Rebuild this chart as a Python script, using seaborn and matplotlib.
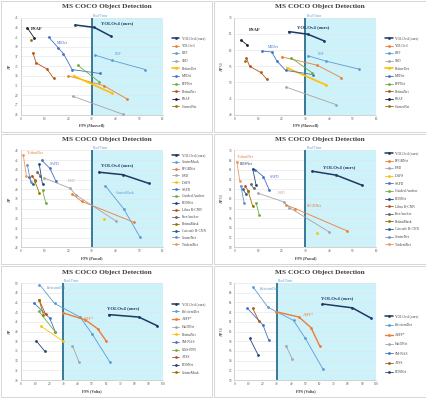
import numpy as np
import pandas as pd
import seaborn as sns
import matplotlib.pyplot as plt
from matplotlib.patches import Rectangle

# --- Maxwell GPU (FPS shared by AP and AP50 charts) ---
max_yolov4_fps = [23, 31, 38]
max_yolov4_ap = [43.5, 43.0, 41.2]
max_yolov4_ap50 = [65.7, 64.9, 62.8]
max_yolov3_fps = [20, 35, 45]
max_yolov3_ap = [33.0, 31.0, 28.2]
max_yolov3_ap50 = [57.9, 55.3, 51.5]
max_lrf_fps = [31.3, 38.5, 52.6]
max_lrf_ap = [37.3, 36.2, 34.3]
max_lrf_ap50 = [58.2, 56.6, 54.1]
max_ssd_fps = [22, 43]
max_ssd_ap = [28.8, 25.1]
max_ssd_ap50 = [48.5, 43.1]
max_refinedet_fps = [22.3, 38.7]
max_refinedet_ap = [33.0, 29.4]
max_refinedet_ap50 = [54.5, 49.2]
max_m2det_fps = [11.8, 15.8, 18.0, 21.7, 33.4]
max_m2det_ap = [41.0, 38.8, 37.6, 34.3, 33.5]
max_m2det_ap50 = [59.7, 59.4, 56.6, 53.7, 52.4]
max_pfpnet_fps = [24, 33]
max_pfpnet_ap = [35.2, 31.8]
max_pfpnet_ap50 = [57.6, 52.9]
max_retinanet_fps = [5.1, 6.5, 11.1, 13.9]
max_retinanet_ap = [37.8, 35.7, 34.4, 32.5]
max_retinanet_ap50 = [57.5, 55.0, 53.1, 50.9]
max_fsaf_fps = [2.8, 5.6]
max_fsaf_ap = [42.9, 40.9]
max_fsaf_ap50 = [63.1, 61.5]
max_cornernet_fps = [4.4]
max_cornernet_ap = [40.5]
max_cornernet_ap50 = [56.5]

# --- Pascal GPU ---
pas_yolov4_fps = [33, 43, 54]
pas_yolov4_ap = [43.5, 43.0, 41.2]
pas_yolov4_ap50 = [65.7, 64.9, 62.8]
pas_centermask_fps = [35.7, 43.5, 50.2]
pas_centermask_ap = [40.7, 35.9, 30.2]
pas_efgrnet_fps = [21.7, 25.7, 47.6]
pas_efgrnet_ap = [39.0, 37.5, 33.2]
pas_efgrnet_ap50 = [58.8, 58.0, 53.4]
pas_hsd_fps = [9.9, 20.8, 23.3, 40.0]
pas_hsd_ap = [42.3, 40.2, 38.8, 33.5]
pas_hsd_ap50 = [61.2, 59.4, 58.2, 53.2]
pas_dafs_fps = [35.1]
pas_dafs_ap = [33.8]
pas_dafs_ap50 = [52.9]
pas_sapd_fps = [8.8, 12.3, 14.8]
pas_sapd_ap = [46.0, 44.3, 41.7]
pas_sapd_ap50 = [66.0, 64.6, 61.8]
pas_guided_fps = [9.2, 10.6]
pas_guided_ap = [39.8, 37.1]
pas_guided_ap50 = [59.2, 56.6]
pas_rdsnet_fps = [7.8, 9.2]
pas_rdsnet_ap = [45.2, 41.0]
pas_rdsnet_ap50 = [66.2, 62.9]
pas_libra_fps = [4.6, 6.0]
pas_libra_ap = [42.8, 41.9]
pas_libra_ap50 = [62.7, 61.6]
pas_freeanchor_fps = [7.0, 8.2]
pas_freeanchor_ap = [43.5, 42.8]
pas_freeanchor_ap50 = [63.0, 62.2]
pas_retinamask_fps = [5.9, 7.8]
pas_retinamask_ap = [41.7, 39.3]
pas_retinamask_ap50 = [61.6, 58.5]
pas_cascade_fps = [3.6, 5.0]
pas_cascade_ap = [42.5, 41.0]
pas_cascade_ap50 = [62.0, 61.0]
pas_centernet_fps = [2.8, 4.2]
pas_centernet_ap = [45.0, 41.5]
pas_centernet_ap50 = [62.7, 59.2]
pas_tridentnet_fps = [1.1, 2.4]
pas_tridentnet_ap = [47.0, 42.8]
pas_tridentnet_ap50 = [67.7, 63.6]

# --- Volta GPU ---
vol_yolov4_fps = [62, 83, 96]
vol_yolov4_ap = [43.5, 43.0, 41.2]
vol_yolov4_ap50 = [65.7, 64.9, 62.8]
vol_effdet_fps = [13.2, 23.8, 41.7, 50.0, 62.5]
vol_effdet_ap = [49.7, 45.8, 43.0, 39.6, 33.8]
vol_effdet_ap50 = [69.2, 65.0, 62.3, 58.6, 52.2]
vol_asff_fps = [29.4, 45.5, 54.0, 60.0]
vol_asff_ap = [43.9, 42.4, 40.6, 38.1]
vol_asff_ap50 = [64.1, 63.0, 60.8, 57.1]
vol_hardnet_fps = [36.4, 40.9]
vol_hardnet_ap = [37.1, 33.8]
vol_hardnet_ap50 = [57.1, 54.3]
vol_retinanet_fps = [14.3, 30.0]
vol_retinanet_ap = [41.1, 38.0]
vol_smnas_fps = [9.3, 20.3, 24.3]
vol_smnas_ap = [45.9, 42.8, 40.0]
vol_smnas_ap50 = [64.8, 61.3, 58.2]
vol_nasfpn_fps = [12.7, 24.4]
vol_nasfpn_ap = [44.2, 39.9]
vol_atss_fps = [13.0, 17.5]
vol_atss_ap = [46.5, 43.6]
vol_atss_ap50 = [64.8, 62.1]
vol_rdsnet_fps = [10.9, 16.8]
vol_rdsnet_ap = [38.1, 36.0]
vol_rdsnet_ap50 = [58.6, 55.2]
vol_centermask_fps = [12.9, 16.0]
vol_centermask_ap = [46.6, 43.4]

NAVY = '#1F3864'
C = dict(blue='#4472C4', orange='#ED7D31', gray='#A5A5A5', gold='#FFC000',
         lblue='#5B9BD5', green='#70AD47', dblue='#264478', dorange='#B0561B',
         dgray='#636363', dgold='#997300', blue2='#255E91', lblue2='#698ED0',
         lorange='#F1975A', black='#1A1A2E')

# series tables: (name, fps, values, color, linewidth)
p1 = [('YOLOv4 (ours)', max_yolov4_fps, max_yolov4_ap, NAVY, 1.1),
      ('YOLOv3', max_yolov3_fps, max_yolov3_ap, C['orange'], 0.6),
      ('LRF', max_lrf_fps, max_lrf_ap, C['lblue'], 0.6),
      ('SSD', max_ssd_fps, max_ssd_ap, C['gray'], 0.6),
      ('RefineDet', max_refinedet_fps, max_refinedet_ap, C['gold'], 1.2),
      ('M2Det', max_m2det_fps, max_m2det_ap, C['blue'], 0.6),
      ('PFPNet', max_pfpnet_fps, max_pfpnet_ap, C['green'], 0.6),
      ('RetinaNet', max_retinanet_fps, max_retinanet_ap, C['dorange'], 0.6),
      ('FSAF', max_fsaf_fps, max_fsaf_ap, C['black'], 0.6),
      ('CornerNet', max_cornernet_fps, max_cornernet_ap, C['dgold'], 0.6)]
p2 = [('YOLOv4 (ours)', max_yolov4_fps, max_yolov4_ap50, NAVY, 1.1),
      ('YOLOv3', max_yolov3_fps, max_yolov3_ap50, C['orange'], 0.6),
      ('LRF', max_lrf_fps, max_lrf_ap50, C['lblue'], 0.6),
      ('SSD', max_ssd_fps, max_ssd_ap50, C['gray'], 0.6),
      ('RefineDet', max_refinedet_fps, max_refinedet_ap50, C['gold'], 1.2),
      ('M2Det', max_m2det_fps, max_m2det_ap50, C['blue'], 0.6),
      ('PFPNet', max_pfpnet_fps, max_pfpnet_ap50, C['green'], 0.6),
      ('RetinaNet', max_retinanet_fps, max_retinanet_ap50, C['dorange'], 0.6),
      ('FSAF', max_fsaf_fps, max_fsaf_ap50, C['black'], 0.6),
      ('CornerNet', max_cornernet_fps, max_cornernet_ap50, C['dgold'], 0.6)]
p3 = [('YOLOv4 (ours)', pas_yolov4_fps, pas_yolov4_ap, NAVY, 1.1),
      ('CenterMask', pas_centermask_fps, pas_centermask_ap, C['lblue'], 0.6),
      ('EFGRNet', pas_efgrnet_fps, pas_efgrnet_ap, C['orange'], 0.6),
      ('HSD', pas_hsd_fps, pas_hsd_ap, C['gray'], 0.6),
      ('DAFS', pas_dafs_fps, pas_dafs_ap, C['gold'], 0.6),
      ('SAPD', pas_sapd_fps, pas_sapd_ap, C['blue'], 0.6),
      ('Guided Anchor', pas_guided_fps, pas_guided_ap, C['green'], 0.6),
      ('RDSNet', pas_rdsnet_fps, pas_rdsnet_ap, C['dblue'], 0.6),
      ('Libra R-CNN', pas_libra_fps, pas_libra_ap, C['dorange'], 0.6),
      ('FreeAnchor', pas_freeanchor_fps, pas_freeanchor_ap, C['dgray'], 0.6),
      ('RetinaMask', pas_retinamask_fps, pas_retinamask_ap, C['dgold'], 0.6),
      ('Cascade R-CNN', pas_cascade_fps, pas_cascade_ap, C['blue2'], 0.6),
      ('CenterNet', pas_centernet_fps, pas_centernet_ap, C['lblue2'], 0.6),
      ('TridentNet', pas_tridentnet_fps, pas_tridentnet_ap, C['lorange'], 0.6)]
p4 = [('YOLOv4 (ours)', pas_yolov4_fps, pas_yolov4_ap50, NAVY, 1.1),
      ('EFGRNet', pas_efgrnet_fps, pas_efgrnet_ap50, C['orange'], 0.6),
      ('HSD', pas_hsd_fps, pas_hsd_ap50, C['gray'], 0.6),
      ('DAFS', pas_dafs_fps, pas_dafs_ap50, C['gold'], 0.6),
      ('SAPD', pas_sapd_fps, pas_sapd_ap50, C['blue'], 0.6),
      ('Guided Anchor', pas_guided_fps, pas_guided_ap50, C['green'], 0.6),
      ('RDSNet', pas_rdsnet_fps, pas_rdsnet_ap50, C['dblue'], 0.6),
      ('Libra R-CNN', pas_libra_fps, pas_libra_ap50, C['dorange'], 0.6),
      ('FreeAnchor', pas_freeanchor_fps, pas_freeanchor_ap50, C['dgray'], 0.6),
      ('RetinaMask', pas_retinamask_fps, pas_retinamask_ap50, C['dgold'], 0.6),
      ('Cascade R-CNN', pas_cascade_fps, pas_cascade_ap50, C['blue2'], 0.6),
      ('CenterNet', pas_centernet_fps, pas_centernet_ap50, C['lblue2'], 0.6),
      ('TridentNet', pas_tridentnet_fps, pas_tridentnet_ap50, C['lorange'], 0.6)]
p5 = [('YOLOv4 (ours)', vol_yolov4_fps, vol_yolov4_ap, NAVY, 1.1),
      ('EfficientDet', vol_effdet_fps, vol_effdet_ap, C['lblue'], 0.6),
      ('ASFF*', vol_asff_fps, vol_asff_ap, C['orange'], 1.0),
      ('HarDNet', vol_hardnet_fps, vol_hardnet_ap, C['gray'], 0.6),
      ('RetinaNet', vol_retinanet_fps, vol_retinanet_ap, C['gold'], 0.6),
      ('SM-NAS', vol_smnas_fps, vol_smnas_ap, C['blue'], 0.6),
      ('NAS-FPN', vol_nasfpn_fps, vol_nasfpn_ap, C['green'], 0.6),
      ('ATSS', vol_atss_fps, vol_atss_ap, C['dorange'], 0.6),
      ('RDSNet', vol_rdsnet_fps, vol_rdsnet_ap, C['dblue'], 0.6),
      ('CenterMask', vol_centermask_fps, vol_centermask_ap, C['dgold'], 0.6)]
p6 = [('YOLOv4 (ours)', vol_yolov4_fps, vol_yolov4_ap50, NAVY, 1.1),
      ('EfficientDet', vol_effdet_fps, vol_effdet_ap50, C['lblue'], 0.6),
      ('ASFF*', vol_asff_fps, vol_asff_ap50, C['orange'], 1.0),
      ('HarDNet', vol_hardnet_fps, vol_hardnet_ap50, C['gray'], 0.6),
      ('SM-NAS', vol_smnas_fps, vol_smnas_ap50, C['blue'], 0.6),
      ('ATSS', vol_atss_fps, vol_atss_ap50, C['dorange'], 0.6),
      ('RDSNet', vol_rdsnet_fps, vol_rdsnet_ap50, C['dblue'], 0.6)]

# in-plot annotations: (text, x, y, color, bold)
t1 = [('YOLOv4 (ours)', 34, 43.8, NAVY, True), ('FSAF', 4.4, 42.7, C['black'], True),
      ('M2Det', 15.4, 39.7, C['blue'], False), ('LRF', 39.6, 37.6, C['lblue'], False)]
t2 = [('YOLOv4 (ours)', 26.3, 67.1, NAVY, True), ('FSAF', 6.0, 66.2, C['black'], True),
      ('M2Det', 14.4, 61.0, C['blue'], False), ('LRF', 35.4, 58.8, C['lblue'], False)]
t3 = [('YOLOv4 (ours)', 34, 44.9, NAVY, True), ('TridentNet', 2.5, 47.5, C['orange'], False),
      ('SAPD', 12.3, 45.2, C['blue'], False), ('HSD', 20, 41.7, C['gray'], False),
      ('CenterMask', 40.3, 39.3, C['lblue'], False)]
t4 = [('YOLOv4 (ours)', 37.5, 66.5, NAVY, True), ('TridentNet', 1.1, 68.6, C['orange'], False),
      ('RDSNet', 2.5, 67.1, C['dblue'], False), ('SAPD', 14.8, 64.6, C['blue'], False),
      ('HSD', 18.6, 61.3, C['gray'], False), ('EFGRNet', 30.5, 58.6, C['orange'], False)]
t5 = [('YOLOv4 (ours)', 60.7, 44.9, NAVY, True), ('EfficientDet', 18.2, 49.0, C['lblue'], False),
      ('ASFF*', 43.9, 42.5, C['orange'], False)]
t6 = [('YOLOv4 (ours)', 60.7, 67.0, NAVY, True), ('EfficientDet', 18.2, 68.8, C['lblue'], False),
      ('ASFF*', 48.1, 63.5, C['orange'], False)]

W, H = 427, 398
sns.set_theme(style='white')
plt.rcParams['font.family'] = ['Liberation Serif', 'DejaVu Serif']
fig = plt.figure(figsize=(W / 100, H / 100), dpi=100)
fig.patch.set_facecolor('white')


def panel(r, c, series, texts, ylim, ystep, xmax, xstep, xlab, ylab, lspace, lcenter):
    ox, oy = c * 213.5, r * 132.7
    fig.patches.append(Rectangle(((ox + 1) / W, 1 - (oy + 131.5) / H), 211.5 / W, 130.5 / H,
                                 transform=fig.transFigure, fill=False, ec='#D0D0D0', lw=0.6))
    ax = fig.add_axes([(ox + 20.7) / W, 1 - (oy + 114.7) / H, 142.3 / W, 97 / H])
    ax.axvspan(30, xmax, color='#CDF2FA', lw=0, zorder=0)
    ax.axvline(30, color='#2A6F8F', lw=1.3, zorder=1)
    for name, fps, vals, col, lw in series:
        sns.lineplot(x=fps, y=vals, ax=ax, color=col, lw=lw, marker='o', markersize=2.0,
                     markeredgewidth=0, label=name, estimator=None, sort=False, zorder=3)
    for txt, x, y, col, bold in texts:
        ax.text(x, y, txt, color=col, fontsize=3.4 if bold else 2.8,
                fontweight='bold' if bold else 'normal', va='center', ha='left', zorder=4)
    ax.set_xlim(0, xmax)
    ax.set_ylim(*ylim)
    ax.set_xticks(np.arange(0, xmax + 1, xstep))
    ax.set_yticks(np.arange(ylim[0], ylim[1] + 0.1, ystep))
    ax.yaxis.grid(True, color='#E3E3E3', lw=0.4)
    ax.set_axisbelow(True)
    for s in ['top', 'right']:
        ax.spines[s].set_visible(False)
    for s in ['left', 'bottom']:
        ax.spines[s].set_color('#BFBFBF')
        ax.spines[s].set_linewidth(0.5)
    ax.tick_params(labelsize=2.4, colors='#595959', length=0, pad=1.5)
    ax.set_xlabel(xlab, fontsize=2.9, fontweight='bold', color='#404040', labelpad=2)
    ax.set_ylabel(ylab, fontsize=2.9, fontweight='bold', color='#404040', labelpad=2)
    ax.text(30.5, ylim[1], 'Real-Time', color=C['lblue'], fontsize=2.6, va='bottom', ha='left')
    ax.legend(loc='center left', bbox_to_anchor=(1.06, lcenter), frameon=False, fontsize=2.6,
              handlelength=2.2, handletextpad=0.6, labelspacing=lspace, borderaxespad=0,
              borderpad=0, labelcolor='#404040')
    fig.text((ox + 106.7) / W, 1 - (oy + 6.8) / H, 'MS COCO Object Detection', ha='center',
             va='center', fontsize=5.3, fontweight='bold', color='#404040')


panel(0, 0, p1, t1, (25, 45), 2, 60, 10, 'FPS (Maxwell)', 'AP', 1.0, 0.435)
panel(0, 1, p2, t2, (40, 70), 5, 60, 10, 'FPS (Maxwell)', 'AP$_{50}$', 1.0, 0.435)
panel(1, 0, p3, t3, (28, 48), 2, 60, 10, 'FPS (Pascal)', 'AP', 0.8, 0.49)
panel(1, 1, p4, t4, (50, 70), 2, 60, 10, 'FPS (Pascal)', 'AP$_{50}$', 1.0, 0.50)
panel(2, 0, p5, t5, (30, 50), 2, 100, 10, 'FPS (Volta)', 'AP', 1.0, 0.43)
panel(2, 1, p6, t6, (50, 70), 2, 100, 10, 'FPS (Volta)', 'AP$_{50}$', 1.5, 0.37)

fig.savefig('out.png', dpi=100, facecolor='white')
